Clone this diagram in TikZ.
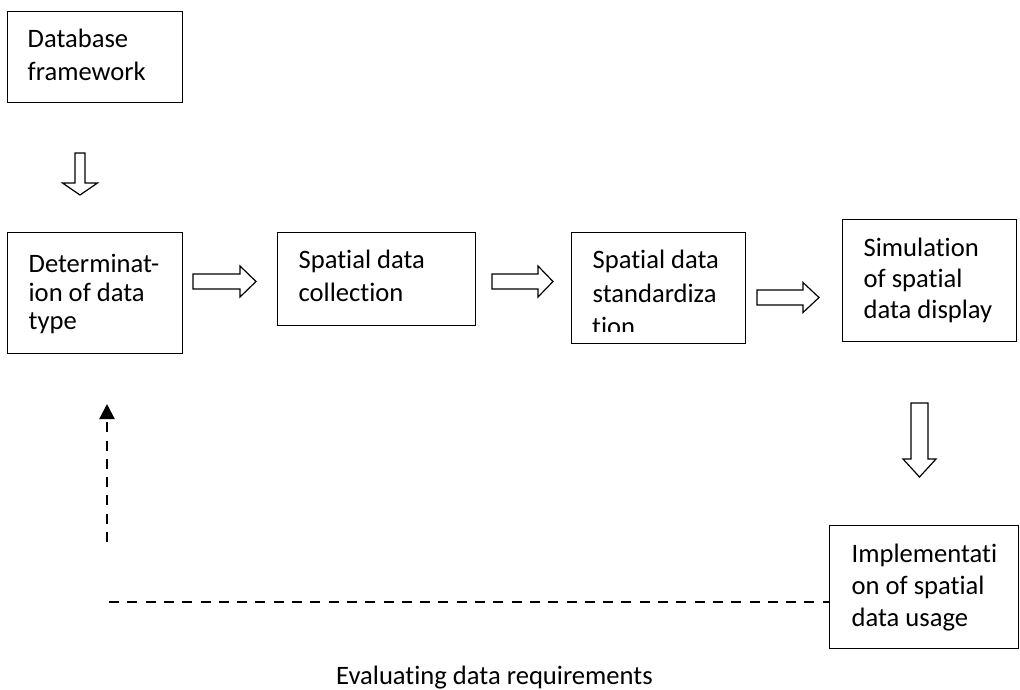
\documentclass[tikz,border=0pt]{standalone}
\usepackage{fontspec}
\setmainfont{Carlito}[Ligatures=NoCommon]
\usetikzlibrary{arrows.meta,calc}

\tikzset{
  % rectangular process box; text starts at its first baseline
  procbox/.style={draw, line width=1.3pt, anchor=north west, inner ysep=0pt,
    align=left, font=\fontsize{26.6}{#1}\selectfont,
    execute at begin node={\hyphenpenalty=10000\exhyphenpenalty=10000
      \spaceskip=\fontdimen2\font\relax}},
  plaintext/.style={font=\fontsize{26.6}{33}\selectfont, inner sep=0pt},
  hollow/.style={draw, line width=1.2pt, fill=white, line join=miter},
  feedback/.style={line width=2.2pt, dash pattern=on 10pt off 8.3pt},
  % hollow block arrow: total length, shaft length, shaft half width, head half width
  pics/blockarrow/.style n args={4}{code={
    \draw[hollow] (0,-#3) -- (#2,-#3) -- (#2,-#4) -- (#1,0) -- (#2,#4)
      -- (#2,#3) -- (0,#3) -- cycle;
  }}
}

\begin{document}
\begin{tikzpicture}[x=1pt,y=-1pt]
  \fill[white] (0,0) rectangle (1020,689);
  \useasboundingbox (0,0) rectangle (1020,689);

  % process boxes
  \node[procbox=33, inner xsep=20pt, text width=135pt, text height=36pt, text depth=55pt]
    (frame) at (7,11) {Database\\framework};
  \node[procbox=28.5, inner xsep=21pt, text width=133pt, text height=40pt, text depth=81pt]
    (dtype) at (7,232) {Determinat-\\ion of data\\type};
  \node[procbox=33, inner xsep=21pt, text width=156pt, text height=36pt, text depth=57pt]
    (collect) at (277,232) {Spatial data\\collection};
  \node[procbox=33.5, inner xsep=21pt, text width=132pt, text height=36pt, text depth=75pt]
    (stand) at (571,232) {Spatial data\\standardiza};
  \begin{scope}
    \clip (571,232) rectangle (745,331.7);
    \node[plaintext, anchor=base west] (standtail) at (592,335) {tion};
  \end{scope}
  \node[procbox=31, inner xsep=21pt, text width=132pt, text height=37pt, text depth=85pt]
    (simul) at (842,219) {Simulation\\of spatial\\data display};
  \node[procbox=32, inner xsep=22pt, text width=145pt, text height=37pt, text depth=86pt]
    (impl) at (829,525) {Implementati\\on of spatial\\data usage};

  % hollow flow arrows between the boxes
  \pic[rotate=-90] at (80,153) {blockarrow={42}{30}{5}{17.5}};
  \pic at (193,281.5) {blockarrow={63}{47}{7.5}{15.5}};
  \pic at (492,281.5) {blockarrow={61}{46}{7.5}{15.5}};
  \pic at (757,297.5) {blockarrow={62}{46}{7.5}{15}};
  \pic[rotate=-90] at (919.5,403) {blockarrow={74}{56}{8.5}{16.5}};

  % dashed feedback path
  \coordinate (fbbottom) at (107,542);
  \coordinate (fbtop) at (107,404);
  \coordinate (fbleft) at (109,602);
  \draw[feedback, -{Triangle[length=15pt,width=15pt]}] (fbbottom) -- (fbtop);
  \draw[feedback] (fbleft) -- (fbleft -| impl.west);

  \node[plaintext, anchor=base west] (evaltext) at (336,684) {Evaluating data requirements};
\end{tikzpicture}
\end{document}
